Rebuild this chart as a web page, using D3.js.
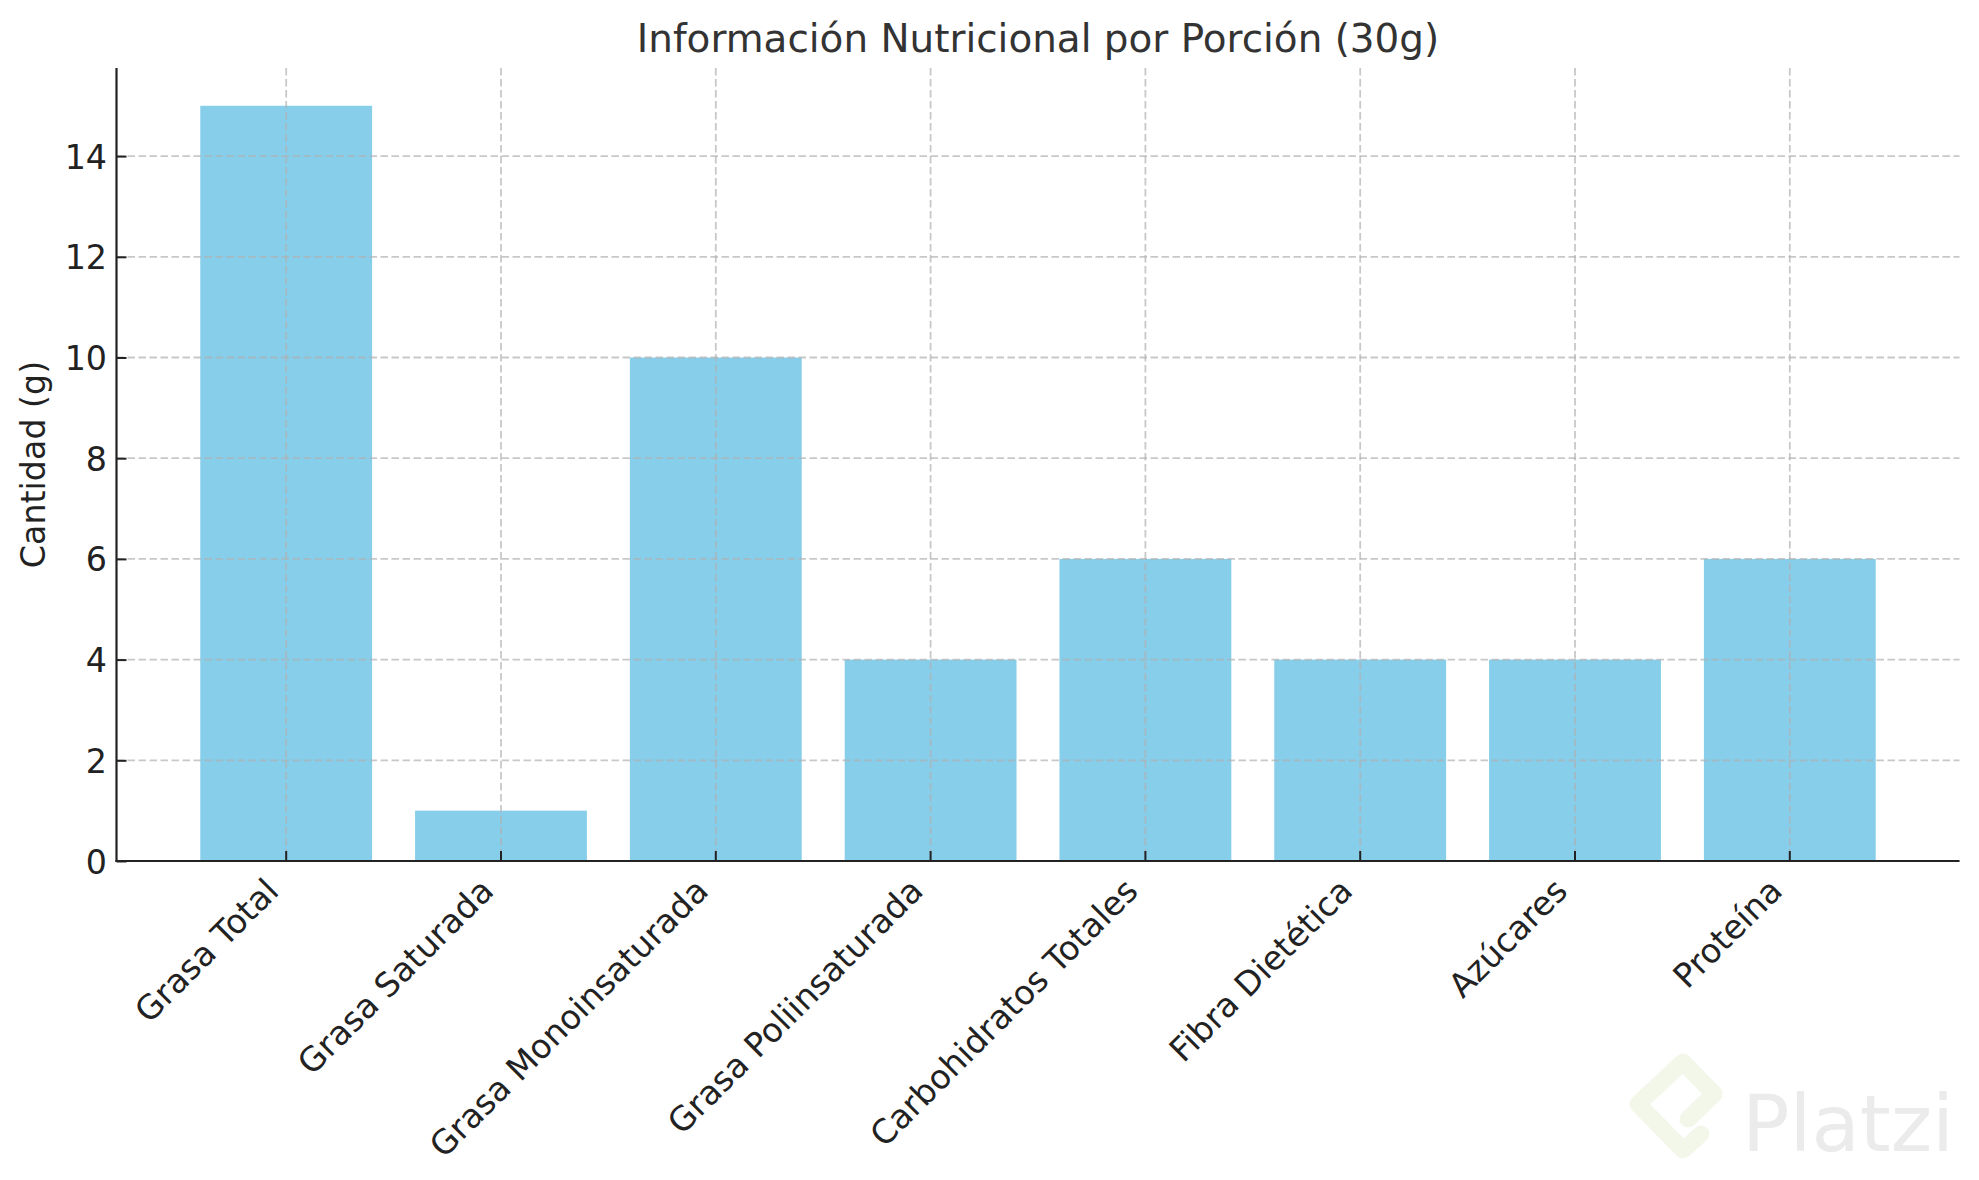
<!DOCTYPE html>
<html>
<head>
<meta charset="utf-8">
<script src="https://cdn.jsdelivr.net/npm/d3@7"></script>
<style>
  html, body { margin: 0; padding: 0; background: #fff; }
  svg { display: block; }
  text { font-family: "DejaVu Sans", sans-serif; }
</style>
</head>
<body>
<svg id="chart" width="1979" height="1180"></svg>
<script>
const categories = ["Grasa Total", "Grasa Saturada", "Grasa Monoinsaturada", "Grasa Poliinsaturada",
                    "Carbohidratos Totales", "Fibra Dietética", "Azúcares", "Proteína"];
const values = [15, 1, 10, 4, 6, 4, 4, 6];
const yTicks = [0, 2, 4, 6, 8, 10, 12, 14];
const yMax = 15.75;
const titleText = "Información Nutricional por Porción (30g)";
const yLabelText = "Cantidad (g)";

const W = 1979, H = 1180;
const m = { left: 116.5, right: 1959.5, top: 68, bottom: 861 };
const svg = d3.select("#chart");
svg.append("rect").attr("width", W).attr("height", H).attr("fill", "#fff");

const x = d3.scaleBand().domain(categories).range([m.left, m.right])
  .paddingInner(0.2).paddingOuter(0.39);
const y = d3.scaleLinear().domain([0, yMax]).range([m.bottom, m.top]);

const fs = 33.3;
const textColor = "#222";

// Watermark
const wm = svg.append("g");
wm.append("path")
  .attr("d", "M1701,1134 L1683,1150 L1638,1104 L1683,1062 L1714,1094 L1688,1119")
  .attr("fill", "none").attr("stroke", "#f3f7ea").attr("stroke-width", 17)
  .attr("stroke-linejoin", "round").attr("stroke-linecap", "round");
const wt = wm.append("text").attr("x", 1742).attr("y", 1151)
  .attr("font-family", "Lato, 'Open Sans', sans-serif").attr("font-size", 90)
  .attr("fill", "#ebebeb").text("Platzi");
const wlen = wt.node().getComputedTextLength();
wt.attr("font-size", 90 * 212 / wlen);

// Bars
svg.append("g").selectAll("rect").data(categories).join("rect")
  .attr("x", d => x(d))
  .attr("width", x.bandwidth())
  .attr("y", (d, i) => y(values[i]))
  .attr("height", (d, i) => y(0) - y(values[i]))
  .attr("fill", "#87ceeb");

// Grid (above bars)
const grid = svg.append("g").attr("stroke", "#b0b0b0").attr("stroke-opacity", 0.7)
  .attr("stroke-width", 1.8).attr("stroke-dasharray", "7.5,3.5");
grid.selectAll("line.h").data(yTicks).join("line").attr("class", "h")
  .attr("x1", m.left).attr("x2", m.right)
  .attr("y1", d => y(d)).attr("y2", d => y(d));
grid.selectAll("line.v").data(categories).join("line").attr("class", "v")
  .attr("x1", d => x(d) + x.bandwidth() / 2).attr("x2", d => x(d) + x.bandwidth() / 2)
  .attr("y1", m.top).attr("y2", m.bottom);

// Axes
const yAxis = d3.axisLeft(y).tickValues(yTicks).tickSizeInner(-10).tickSizeOuter(0).tickPadding(20)
  .tickFormat(d3.format("d"));
const gy = svg.append("g").attr("transform", `translate(${m.left},0)`).call(yAxis);
gy.select(".domain").remove();
gy.selectAll(".tick line").attr("stroke", textColor).attr("stroke-width", 2);
gy.selectAll(".tick text").attr("font-size", fs).attr("fill", textColor)
  .attr("font-family", "'DejaVu Sans', sans-serif").attr("x", -9.5).attr("dy", "0.36em");

const xAxis = d3.axisBottom(x).tickSizeInner(-10).tickSizeOuter(0);
const gx = svg.append("g").attr("transform", `translate(0,${m.bottom})`).call(xAxis);
gx.select(".domain").remove();
gx.selectAll(".tick line").attr("stroke", textColor).attr("stroke-width", 2);
gx.selectAll(".tick text").remove();

// Spines
svg.append("line").attr("x1", m.left).attr("x2", m.left).attr("y1", m.top).attr("y2", m.bottom + 1)
  .attr("stroke", textColor).attr("stroke-width", 2.2);
svg.append("line").attr("x1", m.left - 1).attr("x2", m.right).attr("y1", m.bottom).attr("y2", m.bottom)
  .attr("stroke", textColor).attr("stroke-width", 2.2);

// Rotated x labels (matplotlib rotation=45, ha='right')
const labelTop = m.bottom + 10;
const lg = svg.append("g");
categories.forEach(c => {
  const cx = x(c) + x.bandwidth() / 2;
  const t = lg.append("text").attr("font-size", fs).attr("fill", textColor)
    .attr("text-anchor", "end").attr("transform", `translate(${cx},${labelTop}) rotate(-45)`)
    .text(c);
  const r = t.node().getBoundingClientRect();
  const dx = cx - r.right, dy = labelTop - r.top;
  t.attr("transform", `translate(${cx + dx},${labelTop + dy}) rotate(-45)`);
});

// Title
svg.append("text").attr("x", (m.left + m.right) / 2).attr("y", 52)
  .attr("text-anchor", "middle").attr("font-size", 38.9).attr("fill", "#333").text(titleText);

// Y label
svg.append("text").attr("transform", `translate(45,${(m.top + m.bottom) / 2}) rotate(-90)`)
  .attr("text-anchor", "middle").attr("font-size", fs).attr("fill", textColor).text(yLabelText);
</script>
</body>
</html>
